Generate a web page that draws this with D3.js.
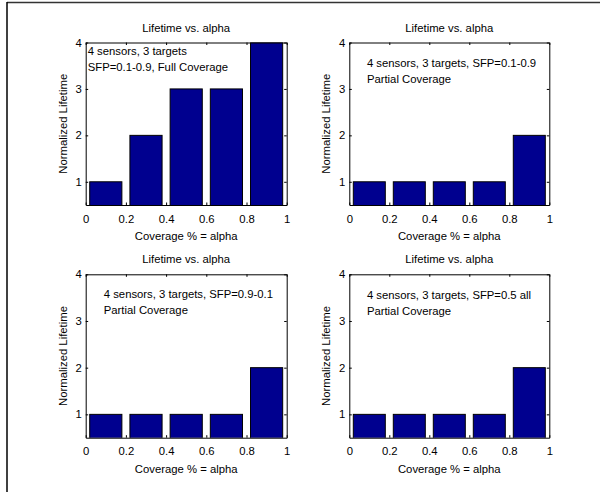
<!DOCTYPE html>
<html>
<head>
<meta charset="utf-8">
<script src="https://cdn.jsdelivr.net/npm/d3@7"></script>
<style>
  body { margin: 0; background: #fff; }
  svg { display: block; }
  text { font-family: "Liberation Sans", Arial, sans-serif; fill: #000; }
</style>
</head>
<body>
<svg id="chart" width="600" height="492"></svg>
<script>
// data
var alpha = [0.1, 0.3, 0.5, 0.7, 0.9];
var fullCoverage = [1, 2, 3, 3, 4];
var partialLowHigh = [1, 1, 1, 1, 2];
var partialHighLow = [1, 1, 1, 1, 2];
var partialEqual = [1, 1, 1, 1, 2];

var xTicks = [0, 0.2, 0.4, 0.6, 0.8, 1];
var yTicks = [1, 2, 3, 4];

var titleText = "Lifetime vs. alpha";
var xLabel = "Coverage % = alpha";
var yLabel = "Normalized Lifetime";

var notes = [
  ["4 sensors, 3 targets", "SFP=0.1-0.9, Full Coverage"],
  ["4 sensors, 3 targets, SFP=0.1-0.9", "Partial Coverage"],
  ["4 sensors, 3 targets, SFP=0.9-0.1", "Partial Coverage"],
  ["4 sensors, 3 targets, SFP=0.5 all", "Partial Coverage"]
];

var barColor = "#00008f";
var fontSize = 11.3;

var panels = [
  { values: fullCoverage,   note: notes[0], nx: 0.01, ny: 3.73, left: 85.7,  top: 42.5,  w: 201, h: 162.5 },
  { values: partialLowHigh, note: notes[1], nx: 0.088, ny: 3.47, left: 349.3, top: 42.5,  w: 200, h: 162.5 },
  { values: partialHighLow, note: notes[2], nx: 0.09, ny: 3.49, left: 85.7,  top: 274.3, w: 201, h: 163.4 },
  { values: partialEqual,   note: notes[3], nx: 0.088, ny: 3.47, left: 349.3, top: 274.3, w: 200, h: 163.4 }
];

var svg = d3.select("#chart");

// figure frame (only top and left edges are visible)
svg.append("line").attr("x1", 7).attr("x2", 600).attr("y1", 2.5).attr("y2", 2.5)
   .attr("stroke", "#333").attr("stroke-width", 1.5);
svg.append("line").attr("x1", 7).attr("x2", 7).attr("y1", 2).attr("y2", 492)
   .attr("stroke", "#000").attr("stroke-width", 1.5);

function drawPanel(p, idx) {
  var x = d3.scaleLinear().domain([0, 1]).range([0, p.w]);
  var y = d3.scaleLinear().domain([0.5, 4]).range([p.h, 0]);

  var g = svg.append("g").attr("transform", "translate(" + p.left + "," + p.top + ")");

  var clipId = "clip" + idx;
  g.append("clipPath").attr("id", clipId)
    .append("rect").attr("width", p.w).attr("height", p.h);

  var barW = 0.16;
  g.append("g").attr("clip-path", "url(#" + clipId + ")")
    .selectAll("rect")
    .data(p.values)
    .enter()
    .append("rect")
    .attr("x", function(d, i) { return x(alpha[i] - barW / 2); })
    .attr("width", function() { return x(barW) - x(0); })
    .attr("y", function(d) { return y(d); })
    .attr("height", function(d) { return y(0) - y(d); })
    .attr("fill", barColor)
    .attr("stroke", "#000")
    .attr("stroke-width", 1);

  var tickLen = 2.5;
  // axes, ticks pointing in, box on
  var bottom = g.append("g").attr("transform", "translate(0," + p.h + ")")
    .call(d3.axisBottom(x).tickValues(xTicks).tickSizeInner(-tickLen).tickSizeOuter(0)
      .tickPadding(6).tickFormat(function(d) { return d === 0 || d === 1 ? d3.format("d")(d) : d3.format(".1f")(d); }));
  var topAx = g.append("g")
    .call(d3.axisTop(x).tickValues(xTicks).tickSizeInner(-tickLen).tickSizeOuter(0).tickFormat(""));
  var leftAx = g.append("g")
    .call(d3.axisLeft(y).tickValues(yTicks).tickSizeInner(-tickLen).tickSizeOuter(0)
      .tickPadding(6).tickFormat(d3.format("d")));
  var rightAx = g.append("g").attr("transform", "translate(" + p.w + ",0)")
    .call(d3.axisRight(y).tickValues(yTicks).tickSizeInner(-tickLen).tickSizeOuter(0).tickFormat(""));

  [bottom, topAx, leftAx, rightAx].forEach(function(a) {
    a.select(".domain").attr("stroke", "#000").attr("stroke-width", 1);
    a.selectAll(".tick line").attr("stroke", "#000");
    a.selectAll("text").attr("font-size", fontSize)
      .attr("font-family", "Liberation Sans, Arial, sans-serif").attr("fill", "#000");
  });
  bottom.selectAll(".tick text").attr("dy", null).attr("y", 17.5);
  leftAx.selectAll(".tick text").attr("x", -4);

  g.append("text").attr("x", p.w / 2).attr("y", -11)
    .attr("text-anchor", "middle").attr("font-size", fontSize).text(titleText);
  g.append("text").attr("x", p.w / 2).attr("y", p.h + 35)
    .attr("text-anchor", "middle").attr("font-size", fontSize).text(xLabel);
  g.append("text")
    .attr("transform", "translate(-19," + (p.h / 2) + ") rotate(-90)")
    .attr("text-anchor", "middle").attr("font-size", fontSize).text(yLabel);

  var note = g.append("text").attr("font-size", fontSize);
  note.selectAll("tspan").data(p.note).enter().append("tspan")
    .attr("x", x(p.nx))
    .attr("y", function(d, i) { return y(p.ny) + i * 16.3; })
    .text(function(d) { return d; });
}

panels.forEach(drawPanel);
</script>
</body>
</html>
